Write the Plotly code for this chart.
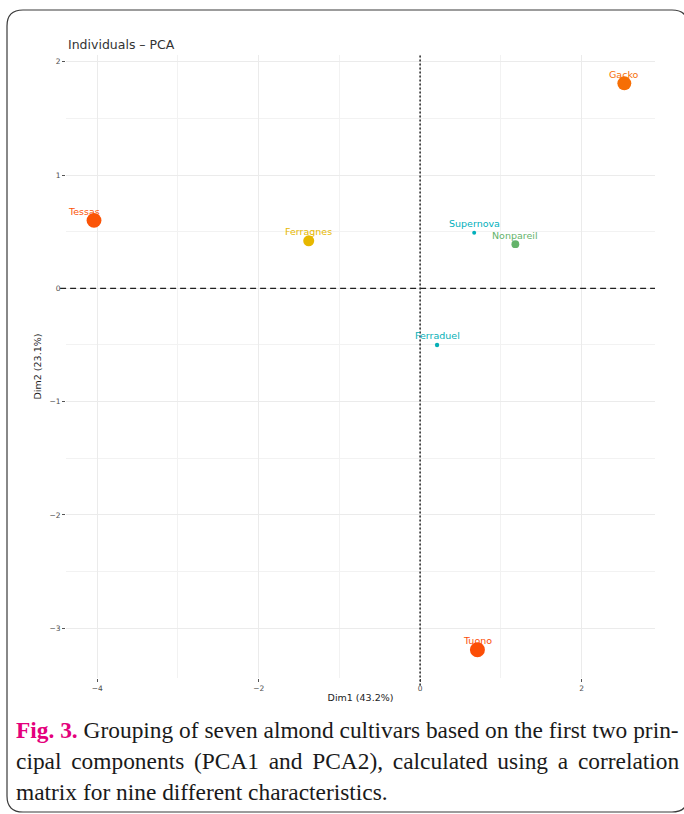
import plotly.graph_objects as go
from plotly.colors import sample_colorscale

# PCA individuals: coordinates on the first two dimensions and quality of representation
cultivars = ["Gacko", "Tessas", "Ferragnes", "Supernova", "Nonpareil", "Ferraduel", "Tuono"]
dim1 = [2.53, -4.04, -1.38, 0.67, 1.18, 0.21, 0.71]
dim2 = [1.81, 0.60, 0.42, 0.49, 0.39, -0.50, -3.19]
cos2 = [0.83, 0.92, 0.57, 0.20, 0.36, 0.21, 0.94]

x_ticks = [-4, -2, 0, 2]
y_ticks = [-3, -2, -1, 0, 1, 2]

W, H = 684, 814
ML, MR, MT, MB = 66, 29, 55, 136
PW, PH = W - ML - MR, H - MT - MB


def px(x):
    return (x - ML) / PW


def py(y):
    return (H - MB - y) / PH


gradient = [[0.0, "#00AFBB"], [0.5, "#E7B800"], [1.0, "#FC4E07"]]
lo, hi = min(cos2), max(cos2)
norm = [(c - lo) / (hi - lo) for c in cos2]
colors = sample_colorscale(gradient, norm, colortype="rgb")
sizes = [(16 + 209 * n) ** 0.5 for n in norm]

fig = go.Figure()
fig.add_trace(go.Scatter(
    x=dim1, y=dim2, mode="markers",
    marker=dict(color=cos2, colorscale=gradient, cmin=lo, cmax=hi, opacity=1,
                size=sizes, line=dict(width=0), showscale=False),
    hoverinfo="text", text=cultivars, showlegend=False,
))

sans = "DejaVu Sans"
label_shift = {"Tessas": -10}
for name, xv, yv, col in zip(cultivars, dim1, dim2, colors):
    fig.add_annotation(x=xv, y=yv, text=name, showarrow=False,
                       xshift=label_shift.get(name, 0), yshift=9,
                       font=dict(family=sans, size=9.5, color=col))

shapes = [
    dict(type="line", xref="x", yref="paper", x0=0, x1=0, y0=-0.012, y1=1,
         line=dict(color="#333333", width=1.6, dash="2px,2px")),
    dict(type="line", xref="paper", yref="y", x0=-0.01, x1=1, y0=0, y1=0,
         line=dict(color="#222222", width=1.2, dash="6px,4px")),
]

# rounded frame around the figure and its caption
left, top, right, bottom, r = 7, 10, 688, 812, 16
rx, ry = r / PW, r / PH
x0, x1 = px(left), px(right)
y0, y1 = py(top), py(bottom)
path = (f"M {x0 + rx},{y0} L {x1 - rx},{y0} Q {x1},{y0} {x1},{y0 - ry} "
        f"L {x1},{y1 + ry} Q {x1},{y1} {x1 - rx},{y1} "
        f"L {x0 + rx},{y1} Q {x0},{y1} {x0},{y1 + ry} "
        f"L {x0},{y0 - ry} Q {x0},{y0} {x0 + rx},{y0} Z")
shapes.append(dict(type="path", xref="paper", yref="paper", path=path,
                   line=dict(color="#3a3a3a", width=1.2)))

fig.update_layout(
    width=W, height=H,
    margin=dict(l=ML, r=MR, t=MT, b=MB),
    paper_bgcolor="white", plot_bgcolor="white",
    shapes=shapes,
    font=dict(family=sans, color="#4d4d4d"),
)

axis_common = dict(showline=False, zeroline=False, ticks="outside", ticklen=3,
                   tickcolor="#555555", tickwidth=0.8,
                   tickfont=dict(family=sans, size=7.5, color="#4d4d4d"),
                   gridcolor="#ebebeb", gridwidth=1)
fig.update_xaxes(range=[-4.387, 2.91], tickvals=x_ticks,
                 minor=dict(dtick=1, tick0=0, showgrid=True, gridcolor="#f2f2f2", gridwidth=0.7),
                 title=dict(text="Dim1 (43.2%)", font=dict(family=sans, size=9.5, color="#222222"),
                            standoff=2),
                 **axis_common)
fig.update_yaxes(range=[-3.44, 2.06], tickvals=y_ticks,
                 minor=dict(dtick=0.5, tick0=0, showgrid=True, gridcolor="#f2f2f2", gridwidth=0.7),
                 title=dict(text="Dim2 (23.1%)", font=dict(family=sans, size=9.5, color="#222222"),
                            standoff=6),
                 **axis_common)

fig.add_annotation(xref="paper", yref="paper", x=px(66), y=py(44), xanchor="left", yanchor="middle",
                   text="Individuals – PCA", showarrow=False,
                   font=dict(family=sans, size=12.5, color="#333333"))

serif = "Liberation Serif"
cap_font = dict(family=serif, size=23.4, color="#1a1a1a")
gap = " \u2006"
fig.add_annotation(xref="paper", yref="paper", x=px(14), y=py(730), xanchor="left", yanchor="middle",
                   showarrow=False, font=cap_font,
                   text="<b><span style='color:#E4007C'>Fig. 3.</span></b> Grouping of seven almond "
                        "cultivars based on the first two prin-")
fig.add_annotation(xref="paper", yref="paper", x=px(14), y=py(761), xanchor="left", yanchor="middle",
                   showarrow=False, font=cap_font,
                   text=gap.join("cipal components (PCA1 and PCA2), calculated using a correlation".split(" ")))
fig.add_annotation(xref="paper", yref="paper", x=px(14), y=py(792), xanchor="left", yanchor="middle",
                   showarrow=False, font=cap_font,
                   text="matrix for nine different characteristics.")

fig.write_html("out.html")
